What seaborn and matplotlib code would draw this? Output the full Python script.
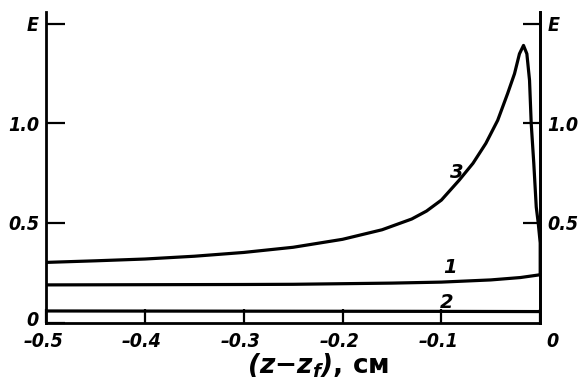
import matplotlib
matplotlib.use("Agg")
import matplotlib.pyplot as plt
from matplotlib.transforms import ScaledTranslation
import seaborn as sns
import pandas as pd

# ---- data ----
x3 = [-0.5, -0.45, -0.4, -0.35, -0.3, -0.25, -0.2, -0.16, -0.13, -0.115, -0.10,
      -0.082, -0.068, -0.055, -0.043, -0.033, -0.026, -0.021, -0.0169, -0.0135,
      -0.0108, -0.0091, -0.0065, -0.004, -0.002, 0.0, 0.0]
y3 = [0.302, 0.310, 0.319, 0.333, 0.352, 0.378, 0.418, 0.466, 0.52, 0.56, 0.615,
      0.715, 0.80, 0.90, 1.016, 1.15, 1.25, 1.35, 1.392, 1.35,
      1.217, 1.0, 0.80, 0.58, 0.50, 0.40, 0.24]
x1 = [-0.5, -0.4, -0.3, -0.25, -0.2, -0.15, -0.1, -0.05, -0.02, 0.0]
y1 = [0.189, 0.190, 0.191, 0.192, 0.195, 0.198, 0.203, 0.214, 0.226, 0.24]
x2 = [-0.5, -0.3, -0.1, 0.0]
y2 = [0.058, 0.057, 0.056, 0.055]

xticks = [-0.5, -0.4, -0.3, -0.2, -0.1, 0.0]
xticklabels = ["\u20130.5", "\u20130.4", "\u20130.3", "\u20130.2", "\u20130.1", "0"]
yticks_left = [0.0, 0.5, 1.0, 1.5]
yticklabels_left = ["0", "0.5", "1.0", "E"]
yticks_right = [0.5, 1.0, 1.5]
yticklabels_right = ["0.5", "1.0", "E"]
curve_labels = ["1", "2", "3"]
label_pos = [(-0.091, 0.277), (-0.095, 0.100), (-0.084, 0.755)]
xlabel = r"$\mathbfit{(z{-}z_f)}$, см"

sns.set_style("white")
plt.rcParams["font.family"] = ["DejaVu Sans"]
plt.rcParams["mathtext.fontset"] = "dejavusans"
for key in ["text.color", "axes.labelcolor", "xtick.color", "ytick.color",
            "axes.edgecolor"]:
    plt.rcParams[key] = "black"

fig = plt.figure(figsize=(5.79, 3.81), dpi=100)
ax = fig.add_axes([0.0795, 0.1535, 0.933 - 0.0795, 0.9685 - 0.1535])

df = pd.concat([
    pd.DataFrame({"x": x1, "y": y1, "c": "1"}),
    pd.DataFrame({"x": x2, "y": y2, "c": "2"}),
    pd.DataFrame({"x": x3, "y": y3, "c": "3"}),
])
for c in ["1", "2", "3"]:
    sns.lineplot(data=df[df.c == c], x="x", y="y", ax=ax, color="black",
                 lw=2.3, estimator=None, sort=False, legend=False,
                 solid_joinstyle="round", solid_capstyle="round")

ax.set_xlim(-0.5, 0.0)
ax.set_ylim(0.0, 1.56)

tfont = dict(fontsize=14, fontstyle="italic", fontweight="bold",
             fontstretch="condensed", color="black")
ax.set_xticks(xticks)
ax.set_xticklabels(xticklabels, **tfont)
ax.set_yticks(yticks_left)
ax.set_yticklabels(yticklabels_left, **tfont)
ax.tick_params(axis="x", which="major", direction="in", length=10, width=1.6,
               pad=7, bottom=True, top=False, color="black")
ax.tick_params(axis="y", which="major", direction="in", length=14, width=1.6,
               pad=5, left=True, right=False, labelleft=True, labelright=False,
               color="black")
ax.minorticks_off()
ax.set_xlabel(xlabel, fontsize=19, fontweight="bold", va="top", color="black")
ax.xaxis.set_label_coords(0.55, -0.092)
ax.set_ylabel("")

dpi_tr = fig.dpi_scale_trans
for lab in ax.get_xticklabels():
    dx = 12 if lab.get_text() == "0" else -3
    lab.set_transform(lab.get_transform() + ScaledTranslation(dx / 100, 0, dpi_tr))
for lab in ax.get_yticklabels():
    if lab.get_text() == "0":
        lab.set_transform(lab.get_transform() + ScaledTranslation(0, 4 / 100, dpi_tr))

sec = ax.secondary_yaxis("right")
sec.set_yticks(yticks_right)
sec.set_yticklabels(yticklabels_right, **tfont)
sec.tick_params(axis="y", which="major", direction="in", length=12, width=1.6,
                pad=5, color="black")
sec.minorticks_off()
sec.spines["right"].set_linewidth(2.0)
sec.spines["right"].set_color("black")

ax.grid(False)
for name, s in ax.spines.items():
    s.set_linewidth(2.0)
    s.set_color("black")
ax.spines["top"].set_visible(False)

for lab, (lx, ly) in zip(curve_labels, label_pos):
    ax.text(lx, ly, lab, fontsize=14, fontstyle="italic", fontweight="bold",
            ha="center", va="center", color="black")

fig.savefig("out.png", dpi=100)
